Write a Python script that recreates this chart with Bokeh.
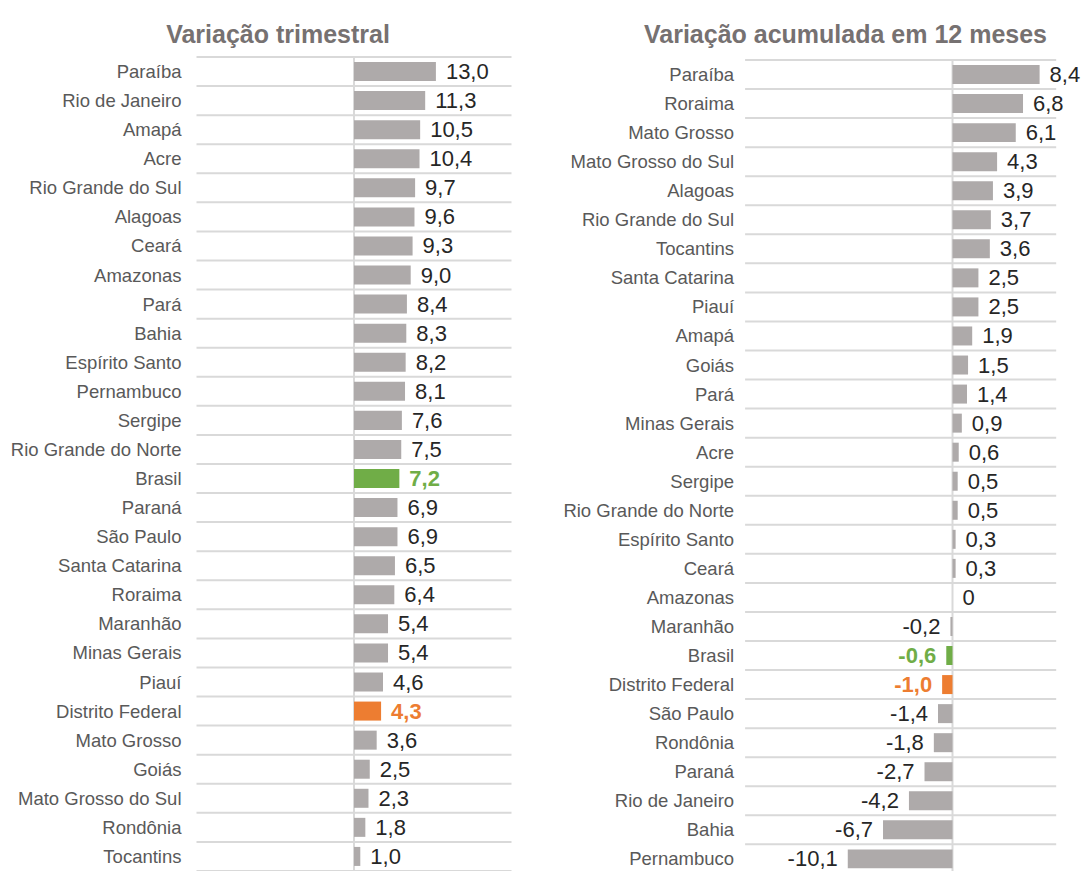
from bokeh.plotting import figure
from bokeh.models import ColumnDataSource, Range1d
from bokeh.layouts import row
from bokeh.embed import file_html
from bokeh.resources import INLINE
from bokeh.core.properties import value

# ---------------- data ----------------
left_title = "Variação trimestral"
left_names = ["Paraíba", "Rio de Janeiro", "Amapá", "Acre", "Rio Grande do Sul",
              "Alagoas", "Ceará", "Amazonas", "Pará", "Bahia", "Espírito Santo",
              "Pernambuco", "Sergipe", "Rio Grande do Norte", "Brasil", "Paraná",
              "São Paulo", "Santa Catarina", "Roraima", "Maranhão", "Minas Gerais",
              "Piauí", "Distrito Federal", "Mato Grosso", "Goiás",
              "Mato Grosso do Sul", "Rondônia", "Tocantins"]
left_vals = [13.0, 11.3, 10.5, 10.4, 9.7, 9.6, 9.3, 9.0, 8.4, 8.3, 8.2, 8.1, 7.6,
             7.5, 7.2, 6.9, 6.9, 6.5, 6.4, 5.4, 5.4, 4.6, 4.3, 3.6, 2.5, 2.3, 1.8,
             1.0]

right_title = "Variação acumulada em 12 meses"
right_names = ["Paraíba", "Roraima", "Mato Grosso", "Mato Grosso do Sul", "Alagoas",
               "Rio Grande do Sul", "Tocantins", "Santa Catarina", "Piauí", "Amapá",
               "Goiás", "Pará", "Minas Gerais", "Acre", "Sergipe",
               "Rio Grande do Norte", "Espírito Santo", "Ceará", "Amazonas",
               "Maranhão", "Brasil", "Distrito Federal", "São Paulo", "Rondônia",
               "Paraná", "Rio de Janeiro", "Bahia", "Pernambuco"]
right_vals = [8.4, 6.8, 6.1, 4.3, 3.9, 3.7, 3.6, 2.5, 2.5, 1.9, 1.5, 1.4, 0.9, 0.6,
              0.5, 0.5, 0.3, 0.3, 0.0, -0.2, -0.6, -1.0, -1.4, -1.8, -2.7, -4.2,
              -6.7, -10.1]

highlight = {"Brasil": "#70AD47", "Distrito Federal": "#ED7D31"}
BAR = "#AEAAAA"
VAL_TXT = "#262626"
CAT_TXT = "#595959"
TITLE_TXT = "#767171"
GRID = "#D9D9D9"
FONT = "Liberation Sans"


def fmt(v):
    if v == 0:
        return "0"
    return f"{v:.1f}".replace(".", ",")


def make_panel(title, names, vals, fig_w, fig_h, x0_px, ppu,
               grid_lo, grid_hi, row_top_px, row_h, standoff, title_cx_px,
               title_base_px):
    n = len(names)
    xs = -x0_px / ppu
    xe = (fig_w - x0_px) / ppu
    y_top = -row_top_px / row_h - 0.5
    y_bot = (fig_h - row_top_px) / row_h - 0.5
    p = figure(width=fig_w, height=fig_h, x_range=Range1d(xs, xe),
               y_range=Range1d(y_bot, y_top), output_backend="svg",
               toolbar_location=None, x_axis_location=None,
               y_axis_location=None,
               min_border_left=0, min_border_right=0,
               min_border_top=0, min_border_bottom=0)
    p.outline_line_color = None
    p.grid.visible = False
    p.background_fill_color = "white"
    p.border_fill_color = "white"

    # gridlines between categories
    gy = [k - 0.5 for k in range(n + 1)]
    p.segment(x0=[grid_lo] * len(gy), x1=[grid_hi] * len(gy), y0=gy, y1=gy,
              line_color=GRID, line_width=2)
    # zero line
    p.segment(x0=[0], x1=[0], y0=[-0.5], y1=[n - 0.5], line_color=GRID,
              line_width=2)

    idx = list(range(n))
    colors = [highlight.get(nm, BAR) for nm in names]
    src = ColumnDataSource(dict(y=idx, v=vals, c=colors))
    p.hbar(y="y", left=0, right="v", height=0.654, fill_color="c",
           line_color=None, source=src)

    # value labels
    lab = ColumnDataSource(dict(
        x=vals, y=idx, t=[fmt(v) for v in vals],
        col=[highlight.get(nm, VAL_TXT) for nm in names],
        sty=["bold" if nm in highlight else "normal" for nm in names],
        al=["left" if v >= 0 else "right" for v in vals],
        off=[10 if v >= 0 else -10 for v in vals],
    ))
    p.text(x="x", y="y", text="t", text_color="col", text_font_style="sty",
           text_align="al", x_offset="off", text_baseline="middle",
           text_font=value(FONT), text_font_size=value("22px"), source=lab)

    # category labels (left of the plot area)
    cat = ColumnDataSource(dict(x=[grid_lo] * n, y=idx, t=names))
    p.text(x="x", y="y", text="t", text_align="right", text_baseline="middle",
           x_offset=-standoff, text_color=CAT_TXT, text_font=value(FONT),
           text_font_size=value("18.5px"), source=cat)

    # title
    tx = (title_cx_px - x0_px) / ppu
    ty = (title_base_px - row_top_px) / row_h - 0.5
    p.text(x=[tx], y=[ty], text=[title], text_align="center",
           text_baseline="alphabetic", text_font=value(FONT),
           text_font_size=value("25px"), text_font_style="bold",
           text_color=TITLE_TXT)
    return p


H = 871
pl = make_panel(left_title, left_names, left_vals, fig_w=548, fig_h=H,
                x0_px=353.5, ppu=6.3, grid_lo=-25, grid_hi=25,
                row_top_px=56.5, row_h=29.07, standoff=15, title_cx_px=277.5,
                title_base_px=33)
pr = make_panel(right_title, right_names, right_vals, fig_w=536, fig_h=H,
                x0_px=404, ppu=10.37, grid_lo=-20, grid_hi=10,
                row_top_px=59.5, row_h=29.05, standoff=11, title_cx_px=297,
                title_base_px=33)

layout = row(pl, pr, spacing=0)
open("out.html", "w").write(file_html(layout, INLINE))
